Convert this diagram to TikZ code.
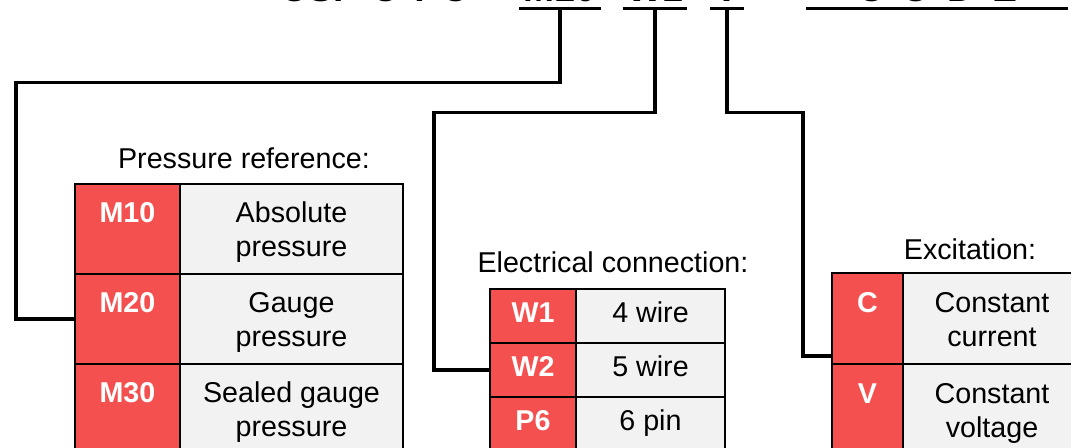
\documentclass[tikz,border=0pt]{standalone}
\usepackage{fontspec}
\setmainfont{Liberation Sans}
\usetikzlibrary{positioning,calc}
\definecolor{codered}{HTML}{F4504F}
\definecolor{cellgray}{HTML}{F2F2F2}
\tikzset{
  cellbase/.style={draw=black, line width=1.5pt, outer sep=0pt, inner sep=0pt, align=center,
    execute at begin node=\strut, execute at end node=\strut},
  tallcell/.style={text height=49pt, text depth=7.65pt},
  codecell/.style={cellbase, fill=codered, text=white, font=\fontsize{21.5}{25.5}\selectfont\bfseries},
  desccell/.style={cellbase, fill=cellgray, font=\fontsize{21.5}{25.5}\selectfont},
  prcode/.style={codecell, tallcell, minimum width=78.75pt, minimum height=67.5pt},
  prdesc/.style={desccell, tallcell, minimum width=167.25pt, minimum height=67.5pt},
  eccode/.style={codecell, minimum width=64.5pt, minimum height=40.5pt},
  ecdesc/.style={desccell, minimum width=111.75pt, minimum height=40.5pt},
  excode/.style={codecell, tallcell, minimum width=53.25pt, minimum height=68.25pt},
  exdesc/.style={desccell, tallcell, minimum width=133.5pt, minimum height=68.25pt},
  caption/.style={font=\fontsize{21.5}{25.5}\selectfont, inner sep=0pt},
  title/.style={font=\fontsize{28}{32}\selectfont\bfseries, anchor=base, inner xsep=3pt, inner ysep=4.5pt, text depth=0pt},
  uline/.style={line width=2pt},
  wire/.style={line width=2.4pt, line join=miter}
}

\begin{document}
\begin{tikzpicture}[x=0.75pt,y=-0.75pt]
\useasboundingbox (0,0) rectangle (1071,448);
\clip (0,0) rectangle (1071,448);

% order code line (only its lower edge is in view)
\node[title] (tus) at (313,2) {US.};
\node[title] (tctc) at (420,2) {C T C};
\node[title] (tm10) at (560,2) {M10};
\node[title] (tw1) at (655,2) {W1};
\node[title] (tv) at (727,2) {V};
\node[title, minimum width=196pt] (tcode) at (937,2) {C\hspace{13pt}O\hspace{13pt}D\hspace{13pt}E};
\draw[uline] (tm10.south west) -- (tm10.south east);
\draw[uline] (tw1.south west) -- (tw1.south east);
\draw[uline] (tv.south west) -- (tv.south east);
\draw[uline] (tcode.south west) -- (tcode.south east);

% pressure reference
\node[caption] (prcap) at (244,158) {Pressure reference:};
\node[prcode, anchor=north west] (m10) at (75,184) {M10\\\mbox{}};
\node[prdesc, right=0pt of m10] (m10d) {Absolute\\pressure};
\node[prcode, below=0pt of m10] (m20) {M20\\\mbox{}};
\node[prdesc, right=0pt of m20] (m20d) {Gauge\\pressure};
\node[prcode, below=0pt of m20] (m30) {M30\\\mbox{}};
\node[prdesc, right=0pt of m30] (m30d) {Sealed gauge\\pressure};

% electrical connection
\node[caption] (eccap) at (613,262) {Electrical connection:};
\node[eccode, anchor=north west] (w1) at (490,289) {W1};
\node[ecdesc, right=0pt of w1] (w1d) {4 wire};
\node[eccode, below=0pt of w1] (w2) {W2};
\node[ecdesc, right=0pt of w2] (w2d) {5 wire};
\node[eccode, below=0pt of w2] (p6) {P6};
\node[ecdesc, right=0pt of p6] (p6d) {6 pin};

% excitation
\node[caption] (excap) at (970,249) {Excitation:};
\node[excode, anchor=north west] (c) at (832,273) {C\\\mbox{}};
\node[exdesc, right=0pt of c] (cd) {Constant\\current};
\node[excode, below=0pt of c] (v) {V\\\mbox{}};
\node[exdesc, right=0pt of v] (vd) {Constant\\voltage};

% leaders
\draw[wire] (tm10.south) |- ++(-544,74) |- (m20.west);
\draw[wire] (tw1.south) |- ++(-221,104) |- (w2.west);
\draw[wire] (tv.south) |- ++(76,104) |- ($(c.south west)+(0,-8)$);
\end{tikzpicture}
\end{document}
